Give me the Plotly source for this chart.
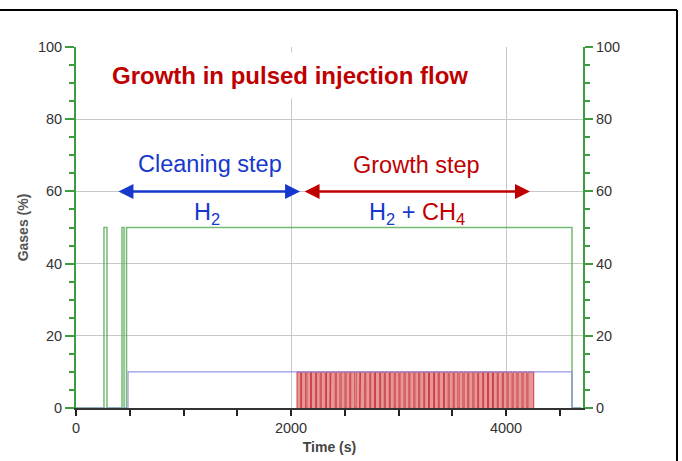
import plotly.graph_objects as go

# ---- data ----
green_t = [0, 260, 288, 428, 447, 470, 4614, 4700]
green_v = [0, 50, 0, 50, 0, 50, 0, 0]

blue_t = [0, 484, 4614, 4700]
blue_v = [0, 10, 0, 0]

red_on = [2056, 2098, 2147, 2190, 2238, 2281, 2330, 2371, 2421, 2465, 2512, 2555,
          2605, 2647, 2695, 2741, 2786, 2833, 2877, 2923, 2969, 3013, 3061, 3105,
          3152, 3197, 3243, 3288, 3335, 3379, 3427, 3471, 3517, 3563, 3609, 3653,
          3701, 3745, 3791, 3837, 3883, 3927, 3975, 4019, 4066, 4111, 4158, 4203]
red_off = [2090, 2136, 2182, 2229, 2272, 2320, 2364, 2412, 2456, 2503, 2547, 2594,
           2640, 2686, 2733, 2776, 2825, 2868, 2915, 2960, 3005, 3052, 3097, 3143,
           3188, 3235, 3279, 3326, 3370, 3418, 3462, 3509, 3553, 3600, 3644, 3692,
           3736, 3783, 3828, 3874, 3919, 3966, 4010, 4057, 4102, 4149, 4194, 4258]
red_level = 10

x_ticks = [0, 2000, 4000]
y_ticks = [0, 20, 40, 60, 80, 100]

FONT = "Arial, Liberation Sans, sans-serif"
AXIS_GREEN = "#3f9b3f"
BLUE = "#1638cc"
RED = "#c00000"

W, H = 682, 461
L, T = 76, 47
PW, PH = 507, 361

red_x, red_y = [], []
for a, b in zip(red_on, red_off):
    red_x += [a, a, b, b]
    red_y += [0, red_level, red_level, 0]

fig = go.Figure()
fig.add_trace(go.Scatter(x=red_x, y=red_y, mode="lines", fill="tozeroy",
                         fillcolor="rgba(230,145,145,0.95)",
                         line=dict(color="rgba(200,50,50,0.9)", width=1),
                         showlegend=False, hoverinfo="skip"))
fig.add_trace(go.Scatter(x=green_t, y=green_v, mode="lines", line_shape="hv",
                         line=dict(color="rgba(90,175,90,0.85)", width=1.5),
                         showlegend=False))
fig.add_trace(go.Scatter(x=blue_t, y=blue_v, mode="lines", line_shape="hv",
                         line=dict(color="rgba(140,140,230,0.9)", width=1.2),
                         showlegend=False))
# invisible trace to anchor the right axis
fig.add_trace(go.Scatter(x=[0], y=[0], yaxis="y2", mode="markers",
                         marker=dict(opacity=0), showlegend=False, hoverinfo="skip"))

fig.update_layout(
    width=W, height=H,
    margin=dict(l=L, r=W - L - PW, t=T, b=H - T - PH),
    paper_bgcolor="white", plot_bgcolor="white",
    font=dict(family=FONT, color="#333"),
    xaxis=dict(range=[0, 4716], tickvals=x_ticks, showgrid=True,
               gridcolor="#c8c8c8", gridwidth=1, zeroline=False,
               showline=True, linecolor="#333", linewidth=2,
               ticks="outside", ticklen=6, tickwidth=1.5, tickcolor="#222",
               minor=dict(dtick=500, ticks="outside", ticklen=6, tickwidth=1.5,
                          tickcolor="#222", showgrid=False),
               tickfont=dict(size=14.5, color="#333"),
               title=dict(text="<b>Time (s)</b>", font=dict(size=14, color="#444"),
                          standoff=7),
               automargin=False),
    yaxis=dict(range=[0, 100], tickvals=y_ticks, showgrid=True,
               gridcolor="#c8c8c8", gridwidth=1, zeroline=False,
               showline=True, linecolor=AXIS_GREEN, linewidth=2,
               ticks="outside", ticklen=9, tickwidth=2, tickcolor=AXIS_GREEN,
               minor=dict(dtick=5, ticks="outside", ticklen=5, tickwidth=2,
                          tickcolor=AXIS_GREEN, showgrid=False),
               tickfont=dict(size=14.5, color="#333"),
               title=dict(text="<b>Gases (%)</b>", font=dict(size=14, color="#555"),
                          standoff=6),
               automargin=False),
    yaxis2=dict(range=[0, 100], tickvals=y_ticks, overlaying="y", side="right",
                showgrid=False, zeroline=False,
                showline=True, linecolor=AXIS_GREEN, linewidth=2,
                ticks="outside", ticklen=8, tickwidth=2, tickcolor=AXIS_GREEN,
                minor=dict(dtick=5, ticks="outside", ticklen=5, tickwidth=2,
                           tickcolor=AXIS_GREEN),
                tickfont=dict(size=14.5, color="#333"),
                automargin=False),
)

# title box (covers the grid line behind it)
fig.add_annotation(x=1991, y=92, xref="x", yref="y", showarrow=False,
                   text="<b>Growth in pulsed injection flow</b>",
                   font=dict(size=24, color=RED, family=FONT),
                   bgcolor="white", borderpad=9)
fig.add_annotation(x=1250, y=67.7, xref="x", yref="y", showarrow=False,
                   text="Cleaning step", font=dict(size=23.5, color=BLUE, family=FONT))
fig.add_annotation(x=3163, y=67.2, xref="x", yref="y", showarrow=False,
                   text="Growth step", font=dict(size=23.5, color=RED, family=FONT))
fig.add_annotation(x=1218, y=54, xref="x", yref="y", showarrow=False,
                   text="H<sub>2</sub>", font=dict(size=23.5, color=BLUE, family=FONT))
fig.add_annotation(x=3172, y=54, xref="x", yref="y", showarrow=False,
                   text="H<sub>2</sub> + <span style='color:%s'>CH<sub>4</sub></span>" % RED,
                   font=dict(size=23.5, color=BLUE, family=FONT))
# double arrows
for x0, x1, col in [(381, 2084, BLUE), (2112, 4223, RED)]:
    fig.add_annotation(x=x1, y=60, ax=x0, ay=60, xref="x", yref="y",
                       axref="x", ayref="y", text="", showarrow=True,
                       arrowside="end+start", arrowhead=2, startarrowhead=2,
                       arrowsize=1.2, startarrowsize=1.2, arrowwidth=2.5,
                       arrowcolor=col, standoff=0, startstandoff=0)

# frame lines (top and right edges of the boxed figure), given in page pixels
def px_to_paper_x(px):
    return (px - L) / PW

def px_to_paper_y(py):
    return (T + PH - py) / PH

fx = px_to_paper_x(677)
fy = px_to_paper_y(10)
fig.add_shape(type="line", xref="paper", yref="paper",
              x0=px_to_paper_x(-5), x1=fx, y0=fy, y1=fy,
              line=dict(color="black", width=2))
fig.add_shape(type="line", xref="paper", yref="paper",
              x0=fx, x1=fx, y0=fy, y1=px_to_paper_y(470),
              line=dict(color="black", width=2))

fig.write_html(
    "out.html",
    config={"displayModeBar": False},
    post_script="document.body.style.margin='0';"
                "document.body.style.padding='0';"
                "document.documentElement.style.overflow='hidden';"
                "document.body.style.overflow='hidden';",
)
